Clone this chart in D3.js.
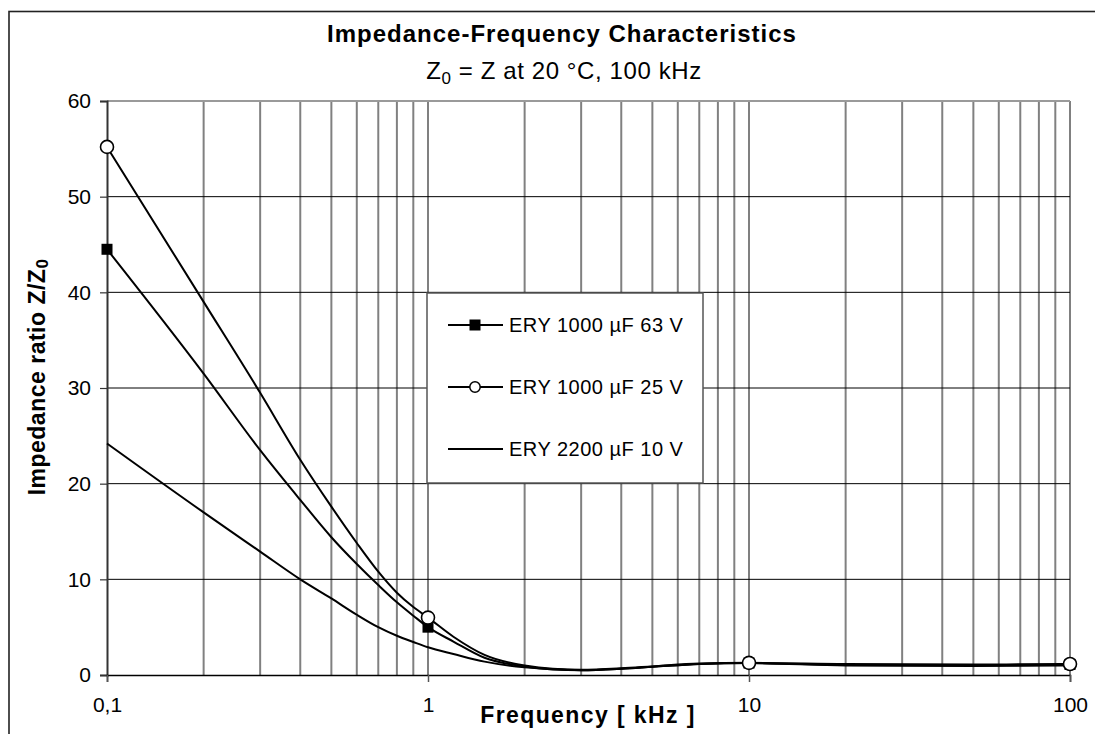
<!DOCTYPE html>
<html><head><meta charset="utf-8">
<script src="https://cdn.jsdelivr.net/npm/d3@7"></script>
<style>body{margin:0;background:#fff}svg{display:block;font-family:"Liberation Sans",Arial,sans-serif}</style>
</head><body><svg id="c" width="1095" height="734"></svg>
<script>
const freqs = [0.1,0.2,0.3,0.4,0.5,0.6,0.7,0.8,0.9,1,1.2,1.5,2,3,4,5,7,10,20,50,100];
const ery63 = [44.5,31.5,23.5,18.3,14.4,11.6,9.4,7.6,6.2,5.0,3.5,1.8,0.9,0.5,0.65,0.85,1.15,1.25,1.05,1.0,1.1];
const ery25 = [55.2,39.0,29.5,22.5,17.6,13.8,10.8,8.6,7.1,6.0,4.0,2.1,1.0,0.55,0.7,0.9,1.2,1.27,1.15,1.1,1.15];
const ery10 = [24.2,17.0,12.9,10.0,8.0,6.3,5.0,4.1,3.45,2.9,2.2,1.4,0.8,0.5,0.65,0.85,1.15,1.25,1.0,0.95,1.0];
const markerFreqs = [0.1,1,10,100];
const seriesNames = ["ERY 1000 µF 63 V","ERY 1000 µF 25 V","ERY 2200 µF 10 V"];
const xTickValues = [0.1,1,10,100];
const xTickLabels = ["0,1","1","10","100"];
const yTicks = [0,10,20,30,40,50,60];

const svg = d3.select("#c");
const L=107,R=1070,T=101,B=675;
const x = d3.scaleLog().domain([0.1,100]).range([L,R]);
const y = d3.scaleLinear().domain([0,60]).range([B,T]);

// outer frame
svg.append("rect").attr("x",9).attr("y",11.5).attr("width",1200).attr("height",800)
  .attr("fill","none").attr("stroke","#222").attr("stroke-width",1.6);

// vertical grid
const minor=[];
[0.1,1,10].forEach(d=>{for(let k=2;k<=9;k++)minor.push(d*k);});
const vg = minor.concat([1,10,100]);
svg.append("g").selectAll("line").data(vg).join("line")
  .attr("x1",d=>x(d)).attr("x2",d=>x(d)).attr("y1",T).attr("y2",B)
  .attr("stroke","#808080").attr("stroke-width",2);
// top border
svg.append("line").attr("x1",L).attr("x2",R).attr("y1",T).attr("y2",T).attr("stroke","#9a9a9a").attr("stroke-width",2);
// horizontal grid
svg.append("g").selectAll("line").data(yTicks.filter(d=>d>0&&d<60)).join("line")
  .attr("x1",L).attr("x2",R).attr("y1",d=>y(d)).attr("y2",d=>y(d))
  .attr("stroke","#000").attr("stroke-width",1);

// axes
const yAxis = d3.axisLeft(y).tickValues(yTicks).tickSize(7).tickPadding(9);
const gy = svg.append("g").attr("transform",`translate(${L},0)`).call(yAxis);
gy.select(".domain").attr("stroke","#333").attr("stroke-width",2);
gy.selectAll(".tick line").attr("stroke","#333").attr("stroke-width",1.2);
gy.selectAll("text").attr("font-size",21).attr("fill","#000").attr("font-family","Liberation Sans, Arial");

const xAxis = d3.axisBottom(x).tickValues(xTickValues).tickFormat((d,i)=>xTickLabels[i]).tickSize(7).tickPadding(15);
const gx = svg.append("g").attr("transform",`translate(0,${B})`).call(xAxis);
gx.select(".domain").attr("stroke","#000").attr("stroke-width",1.5);
gx.selectAll(".tick line").attr("stroke","#555").attr("stroke-width",1.5);
gx.selectAll("text").attr("font-size",21).attr("fill","#000").attr("font-family","Liberation Sans, Arial");

// lines
const line = d3.line().x(d=>x(d[0])).y(d=>y(d[1])).curve(d3.curveMonotoneX);
[ery63,ery25,ery10].forEach(s=>{
  svg.append("path").datum(freqs.map((f,i)=>[f,s[i]])).attr("d",line)
    .attr("fill","none").attr("stroke","#000").attr("stroke-width",2);
});
// markers
const mk63 = freqs.map((f,i)=>[f,ery63[i]]).filter(d=>markerFreqs.includes(d[0]));
const mk25 = freqs.map((f,i)=>[f,ery25[i]]).filter(d=>markerFreqs.includes(d[0]));
svg.append("g").selectAll("rect").data(mk63).join("rect")
  .attr("x",d=>x(d[0])-5.5).attr("y",d=>y(d[1])-5.5).attr("width",11).attr("height",11).attr("fill","#000");
svg.append("g").selectAll("circle").data(mk25).join("circle")
  .attr("cx",d=>x(d[0])).attr("cy",d=>y(d[1])).attr("r",6.5).attr("fill","#fff").attr("stroke","#000").attr("stroke-width",1.6);

// legend
svg.append("rect").attr("x",427).attr("y",293).attr("width",276).attr("height",190)
  .attr("fill","#fff").attr("stroke","#555").attr("stroke-width",1.5);
const rows=[325,387,449];
seriesNames.forEach((n,i)=>{
  const g=svg.append("g");
  g.append("line").attr("x1",448).attr("x2",503).attr("y1",rows[i]).attr("y2",rows[i]).attr("stroke","#000").attr("stroke-width",2);
  if(i===0) g.append("rect").attr("x",469.5).attr("y",rows[i]-5.5).attr("width",11).attr("height",11).attr("fill","#000");
  if(i===1) g.append("circle").attr("cx",475).attr("cy",rows[i]).attr("r",5.2).attr("fill","#fff").attr("stroke","#000").attr("stroke-width",1.5);
  g.append("text").attr("x",509).attr("y",rows[i]+7).attr("font-size",20).attr("letter-spacing",0.5).text(n);
});

// titles
svg.append("text").attr("x",562).attr("y",42).attr("text-anchor","middle").attr("font-size",24).attr("letter-spacing",1).attr("font-weight","bold").text("Impedance-Frequency Characteristics");
const st = svg.append("text").attr("x",564).attr("y",79).attr("text-anchor","middle").attr("font-size",24).attr("letter-spacing",0.6);
st.append("tspan").text("Z");
st.append("tspan").attr("font-size",17).attr("dy",5).text("0");
st.append("tspan").attr("dy",-5).text(" = Z at 20 °C, 100 kHz");

svg.append("text").attr("x",588).attr("y",723).attr("text-anchor","middle").attr("font-size",23).attr("letter-spacing",1.4).attr("font-weight","bold").text("Frequency [ kHz ]");
const yl = svg.append("text").attr("transform","translate(45,377) rotate(-90)").attr("text-anchor","middle").attr("font-size",23).attr("letter-spacing",0.5).attr("font-weight","bold");
yl.append("tspan").text("Impedance ratio Z/Z");
yl.append("tspan").attr("font-size",17).attr("dy",3).text("0");
</script></body></html>
